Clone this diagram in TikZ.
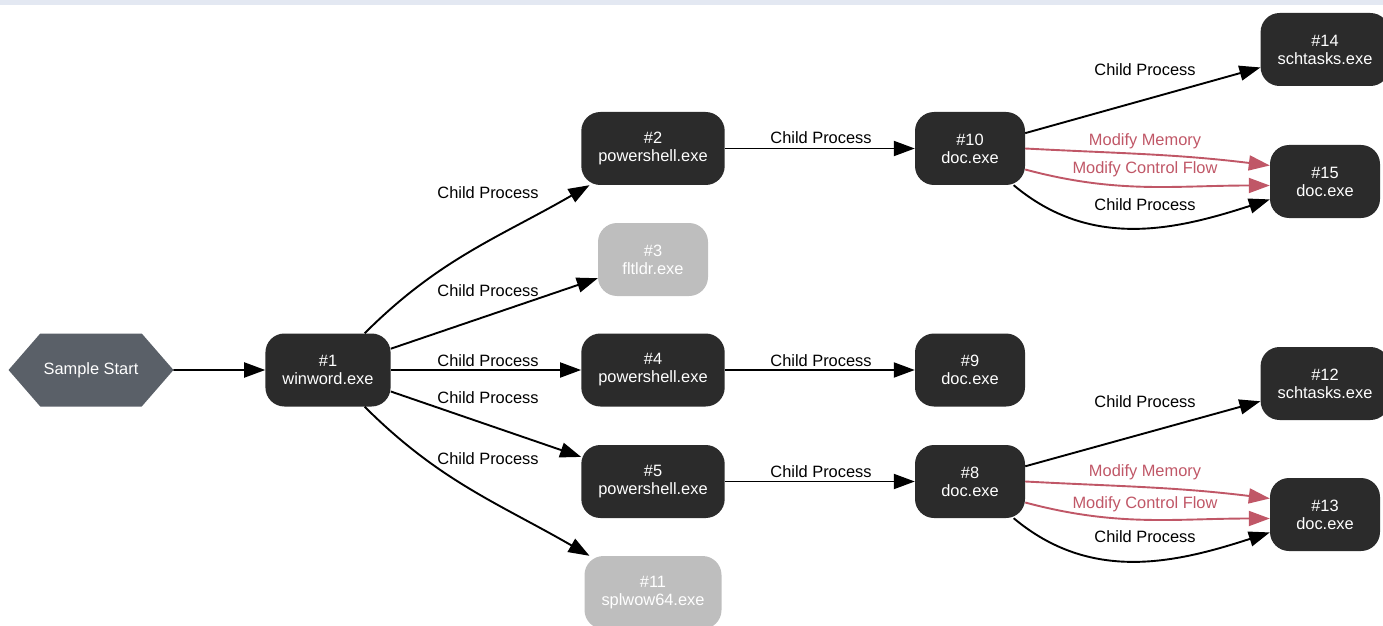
\documentclass[tikz,border=0pt]{standalone}
\usepackage{fontspec}
\setmainfont{Liberation Sans}
\usetikzlibrary{arrows.meta,shapes.symbols}
\definecolor{procdark}{RGB}{43,43,43}
\definecolor{procgray}{RGB}{190,190,190}
\definecolor{startgray}{RGB}{90,96,104}
\definecolor{modred}{RGB}{192,87,103}
\definecolor{topband}{RGB}{227,232,242}

\begin{document}
\begin{tikzpicture}[x=1pt,y=1pt,
  txt/.style={font=\fontsize{16.4}{18}\selectfont},
  proc/.style={txt,rectangle,rounded corners=19pt,fill=procdark,text=white,align=center,minimum width=110pt,minimum height=73pt,inner xsep=17pt},
  procoff/.style={proc,fill=procgray},
  lbl/.style={txt,inner sep=0pt,anchor=base},
  arr/.style={line width=1.9pt,-{Triangle[length=21pt,width=15pt]}},
  modarr/.style={arr,draw=modred}]
\useasboundingbox (0,0) rectangle (1383,625);
\fill[topband] (0,620) rectangle (1383,625);

\node[txt,signal,signal to=west and east,signal pointer angle=98,fill=startgray,text=white,minimum width=161pt,minimum height=73pt,outer sep=0pt] (start) at (91,255) {Sample Start};
\node[proc] (n1) at (328,255) {\#1\\winword.exe};
\node[proc] (n2) at (653,476.5) {\#2\\powershell.exe};
\node[procoff] (n3) at (653,365.5) {\#3\\fltldr.exe};
\node[proc] (n4) at (653,255) {\#4\\powershell.exe};
\node[proc] (n5) at (653,143.5) {\#5\\powershell.exe};
\node[procoff] (n11) at (653,32.5) {\#11\\splwow64.exe};
\node[proc] (n10) at (970,476.5) {\#10\\doc.exe};
\node[proc] (n9) at (970,255) {\#9\\doc.exe};
\node[proc] (n8) at (970,143.5) {\#8\\doc.exe};
\node[proc] (n14) at (1325,575.5) {\#14\\schtasks.exe};
\node[proc] (n15) at (1325,443.5) {\#15\\doc.exe};
\node[proc] (n12) at (1325,241.5) {\#12\\schtasks.exe};
\node[proc] (n13) at (1325,110.5) {\#13\\doc.exe};

% first level
\draw[arr] (start) -- (n1);
\draw[arr] (n1) to[out=45,in=210] (n2);
\draw[arr] (n1) -- (n3);
\draw[arr] (n1) -- (n4);
\draw[arr] (n1) -- (n5);
\draw[arr] (n1) to[out=-45,in=150] (n11);
\node[lbl] (l2) at (488,426) {Child Process};
\node[lbl] (l3) at (488,329) {Child Process};
\node[lbl] (l4) at (488,259) {Child Process};
\node[lbl] (l5) at (488,222) {Child Process};
\node[lbl] (l11) at (488,161) {Child Process};

% second level
\draw[arr] (n2) -- (n10);
\draw[arr] (n4) -- (n9);
\draw[arr] (n5) -- (n8);
\node[lbl] (l10) at (821,481) {Child Process};
\node[lbl] (l9) at (821,259) {Child Process};
\node[lbl] (l8) at (821,148) {Child Process};

% upper doc.exe
\draw[arr] (n10) -- (n14);
\draw[modarr] (n10.east) to[out=-3,in=173] ([yshift=16pt]n15.west);
\draw[modarr] ([yshift=-21pt]n10.east) to[out=-15,in=180] ([yshift=-4pt]n15.west);
\draw[arr] (n10) to[out=-40,in=198] (n15);
\node[lbl] (l14) at (1145,549) {Child Process};
\node[lbl,text=modred] (l15a) at (1145,479.5) {Modify Memory};
\node[lbl,text=modred] (l15b) at (1145,451) {Modify Control Flow};
\node[lbl] (l15c) at (1145,414) {Child Process};

% lower doc.exe
\draw[arr] (n8) -- (n12);
\draw[modarr] (n8.east) to[out=-3,in=173] ([yshift=16pt]n13.west);
\draw[modarr] ([yshift=-21pt]n8.east) to[out=-15,in=180] ([yshift=-4pt]n13.west);
\draw[arr] (n8) to[out=-40,in=198] (n13);
\node[lbl] (l12) at (1145,218) {Child Process};
\node[lbl,text=modred] (l13a) at (1145,148.5) {Modify Memory};
\node[lbl,text=modred] (l13b) at (1145,117) {Modify Control Flow};
\node[lbl] (l13c) at (1145,83) {Child Process};
\end{tikzpicture}
\end{document}
